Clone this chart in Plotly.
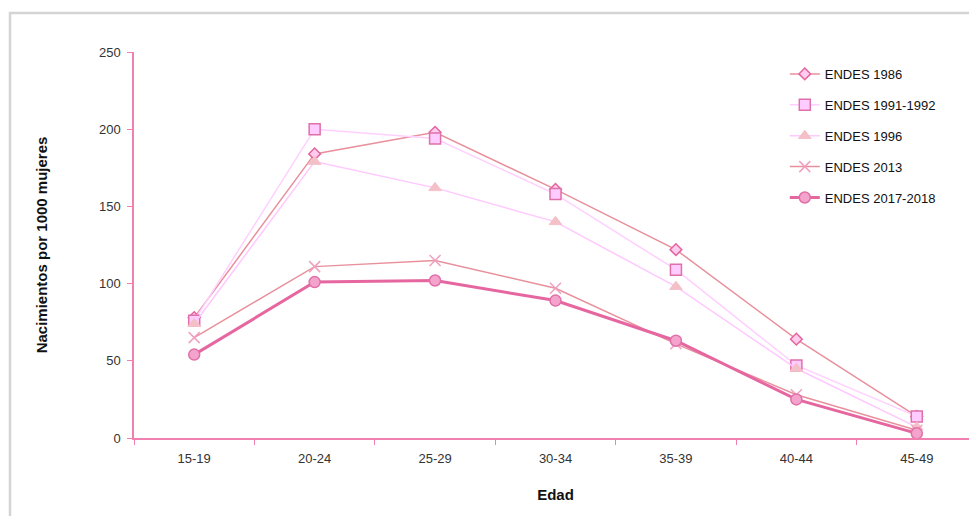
import plotly.graph_objects as go

categories = ["15-19", "20-24", "25-29", "30-34", "35-39", "40-44", "45-49"]
endes_1986 = [78, 184, 198, 161, 122, 64, 14]
endes_1991_1992 = [76, 200, 194, 158, 109, 47, 14]
endes_1996 = [74, 179, 162, 140, 98, 45, 7]
endes_2013 = [65, 111, 115, 97, 61, 28, 5]
endes_2017_2018 = [54, 101, 102, 89, 63, 25, 3]

fig = go.Figure()

series = [
    ("ENDES 1986", endes_1986, dict(color="#E8909C", width=1.5),
     dict(symbol="diamond", size=9, color="#FFCCEE", line=dict(color="#E4649E", width=1.5))),
    ("ENDES 1991-1992", endes_1991_1992, dict(color="#FFD0FF", width=1.5),
     dict(symbol="square", size=11, color="#FFCCFF", line=dict(color="#E070A8", width=1.5))),
    ("ENDES 1996", endes_1996, dict(color="#FFC8FF", width=1.5),
     dict(symbol="triangle-up", size=11, color="#F4C0C8", line=dict(color="#F4C0C8", width=1))),
    ("ENDES 2013", endes_2013, dict(color="#E8909C", width=1.5),
     dict(symbol="x-thin", size=11, color="#F0A0C0", line=dict(color="#F0A0C0", width=1.5))),
    ("ENDES 2017-2018", endes_2017_2018, dict(color="#E666A0", width=3),
     dict(symbol="circle", size=11, color="#F4A4CC", line=dict(color="#E070A8", width=1.5))),
]

for i, (name, vals, line, marker) in enumerate(series):
    fig.add_trace(go.Scatter(
        x=categories, y=vals, name=name, mode="lines+markers",
        line=line, marker=marker, legendgroup=str(i),
    ))

axis_color = "#F080B0"
fig.update_layout(
    width=970, height=509,
    margin=dict(l=126, r=1, t=44, b=79),
    plot_bgcolor="white", paper_bgcolor="white",
    font=dict(family="Liberation Sans, Arial, sans-serif", color="#222"),
    showlegend=True,
    legend=dict(x=0.772, y=0.982, xanchor="left", yanchor="top",
                font=dict(size=13, color="#111"), tracegroupgap=11,
                bgcolor="rgba(0,0,0,0)"),
    xaxis=dict(
        type="category", range=[-0.5, 6.5], showgrid=False,
        showline=True, linecolor=axis_color, linewidth=1.5,
        ticks="outside", tickson="boundaries", ticklen=5, tickcolor=axis_color,
        tickfont=dict(size=13, color="#333"), ticklabelstandoff=8,
        title=dict(text="<b>Edad</b>", font=dict(size=15, color="#111"), standoff=24),
    ),
    yaxis=dict(
        range=[0, 250], dtick=50, showgrid=False, zeroline=False,
        showline=True, linecolor=axis_color, linewidth=1.5,
        ticks="outside", ticklen=5, tickcolor=axis_color,
        tickfont=dict(size=13, color="#333"), ticklabelstandoff=4,
        title=dict(text="<b>Nacimientos por 1000 mujeres</b>", font=dict(size=15, color="#111"), standoff=48),
    ),
)

fig.add_shape(type="rect", xref="paper", yref="paper",
              x0=(9 - 133) / 843, x1=1.2, y0=-0.4, y1=(437 - 12) / 386,
              line=dict(color="#D4D4D4", width=2.5), layer="below")

fig.write_html("out.html")
